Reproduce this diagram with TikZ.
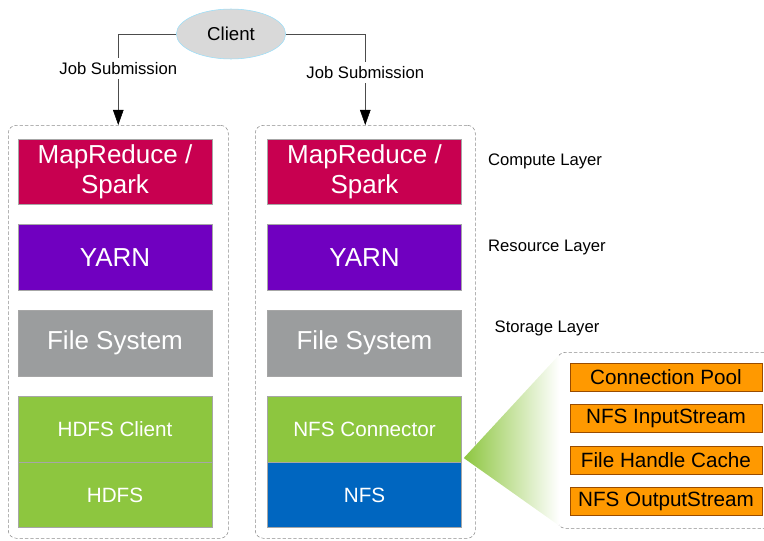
\documentclass[tikz,border=0pt]{standalone}
\usepackage{fontspec}
\setmainfont{Liberation Sans}
\usetikzlibrary{positioning,arrows.meta,shapes.geometric,calc}
\definecolor{mrred}{RGB}{200,0,80}
\definecolor{yarnpurple}{RGB}{112,0,192}
\definecolor{fsgray}{RGB}{155,157,158}
\definecolor{hgreen}{RGB}{141,198,63}
\definecolor{nfsblue}{RGB}{0,102,192}
\definecolor{cacheorange}{RGB}{255,153,0}
\tikzset{
layer/.style={
draw=black!35,
minimum width=145.5pt,
minimum height=49pt,
inner sep=0pt,
align=center,
text=white,
font=\fontsize{19.5}{22.5}\selectfont
},
smalllayer/.style={
layer,
font=\fontsize{15.5}{18}\selectfont
},
part/.style={
draw=orange!60!black,
fill=cacheorange,
minimum width=144pt,
minimum height=21pt,
inner sep=0pt,
font=\fontsize{15.5}{18}\selectfont
},
group/.style={
draw=black!45,
dash pattern=on 2.5pt off 1.5pt,
rounded corners=6pt,
inner sep=0pt,
anchor=north west
},
tag/.style={
font=\fontsize{12.5}{15}\selectfont
},
arrow/.style={
-{Triangle[length=4mm,width=2.8mm,color=black]},
draw=black!70
}
}
\begin{document}
\begin{tikzpicture}[x=0.75pt,y=-0.75pt,node distance=15pt]
\useasboundingbox (0,0) rectangle (764,540);

% client and the two stacks
\node[ellipse,draw=cyan!40,fill=black!15,minimum width=82pt,minimum height=37.5pt,
  font=\fontsize{14}{16}\selectfont](client) at (231,34){Client};
\node[group,minimum width=165pt,minimum height=309.75pt](lgroup) at (8,125){};
\node[group,minimum width=165pt,minimum height=309.75pt](rgroup) at (255,125){};

\node[layer,fill=mrred](lmr) at (115,171.5){MapReduce /\\Spark};
\node[layer,fill=yarnpurple,below=of lmr](lyarn){YARN};
\node[layer,fill=fsgray,below=of lyarn](lfs){File System};
\node[smalllayer,fill=hgreen,below=of lfs](lclient){HDFS Client};
\node[smalllayer,fill=hgreen,below=0pt of lclient](lhdfs){HDFS};

\node[layer,fill=mrred](rmr) at (364.5,171.5){MapReduce /\\Spark};
\node[layer,fill=yarnpurple,below=of rmr](ryarn){YARN};
\node[layer,fill=fsgray,below=of ryarn](rfs){File System};
\node[smalllayer,fill=hgreen,below=of rfs](rconn){NFS Connector};
\node[smalllayer,fill=nfsblue,below=0pt of rconn](rnfs){NFS};

\node[tag](compute) at (545,161){Compute Layer};
\node[tag](resource) at (547,247){Resource Layer};
\node[tag](storage) at (547,328){Storage Layer};

% connector detail
\node[group,minimum width=165pt,minimum height=132pt](detail) at (557,352){};
\shade[left color=hgreen,right color=white]
  ($(rconn.south east)+(2,-4)$) -- ($(detail.north west)+(2,3)$) -- ($(detail.south west)+(2,-3)$) -- cycle;
\node[part](pool) at (666,377){Connection Pool};
\node[part,below=9.75pt of pool](instream){NFS InputStream};
\node[part,below=9.75pt of instream](cache){File Handle Cache};
\node[part,below=9.75pt of cache](outstream){NFS OutputStream};

\draw[arrow](client.west) -| node[tag,fill=white,pos=0.69]{Job Submission} (lgroup.north);
\draw[arrow](client.east) -| node[tag,fill=white,pos=0.71]{Job Submission} (rgroup.north);
\end{tikzpicture}
\end{document}
